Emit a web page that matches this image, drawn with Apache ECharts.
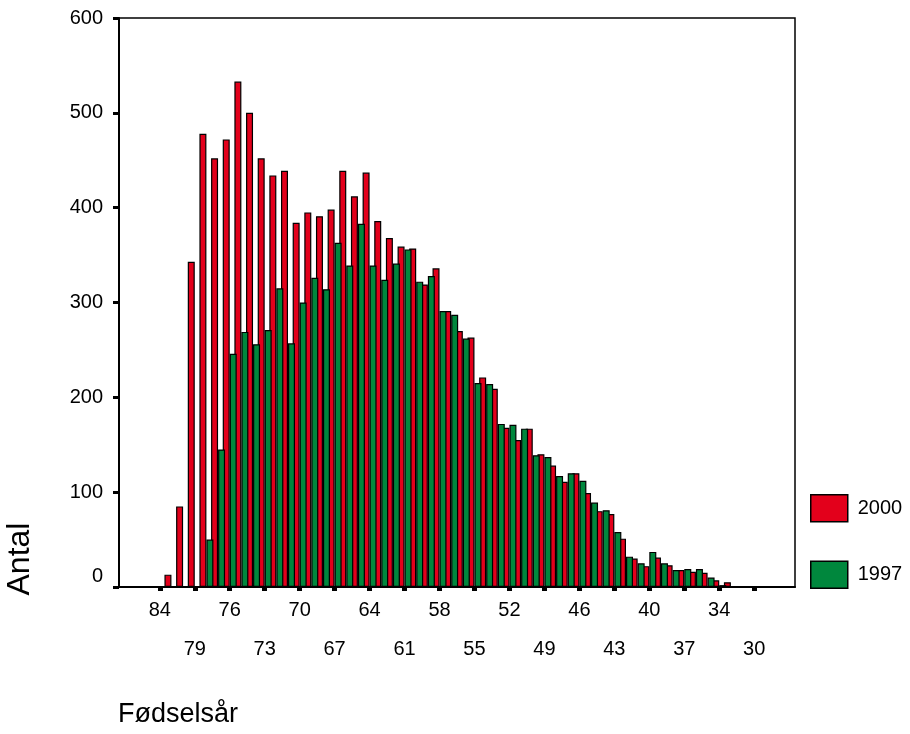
<!DOCTYPE html>
<html>
<head>
<meta charset="utf-8">
<script src="https://cdn.jsdelivr.net/npm/echarts@6/dist/echarts.min.js"></script>
<style>
html,body{margin:0;padding:0;background:#fff;}
#chart{width:910px;height:734px;}
</style>
</head>
<body>
<div id="chart"></div>
<script>
// Birth years (Fødselsår) shown on the category axis
const categories = ['87','86','85','84','81','80','79','78','77','76','75','74','73','72','71','70','69','68','67','66','65','64','63','62','61','60','59','58','57','56','55','54','53','52','51','50','49','48','47','46','45','44','43','42','41','40','39','38','37','36','35','34','32','31','30','29','28','27'];
// Counts (Antal) for 2000
const values2000 = [null,null,null,1,13,85,343,478,452,472,533,500,452,434,439,384,395,391,398,439,412,437,386,368,359,357,319,336,291,270,263,221,209,168,155,167,140,128,111,120,99,80,77,51,30,22,31,23,18,16,15,7,5,1,1,null,null,null];
// Counts (Antal) for 1997
const values1997 = [null,null,null,null,null,null,null,50,145,246,269,256,271,315,257,300,326,314,363,339,383,339,324,341,356,322,328,291,287,262,215,214,172,171,167,139,137,117,120,112,89,81,58,32,25,37,25,18,19,19,10,2,null,null,1,null,null,null];
const yTicks = [0,100,200,300,400,500,600];
const seriesNames = ['2000','1997'];

const FONT = 'Liberation Sans, Arial, Helvetica, sans-serif';
const labelled = (i) => i >= 3 && i <= 54 && i % 3 === 0;
const row1 = (i) => labelled(i) && (i / 3) % 2 === 1;
const row2 = (i) => labelled(i) && (i / 3) % 2 === 0;

const chart = echarts.init(document.getElementById('chart'), null, {renderer:'canvas'});
chart.setOption({
  animation: false,
  backgroundColor: '#fff',
  textStyle: {fontFamily: FONT},
  grid: {left:119, right:115, top:18, bottom:147, show:true, borderColor:'#000', borderWidth:1.5, containLabel:false},
  legend: {
    data: seriesNames,
    orient: 'vertical',
    left: 810, top: 494, padding: 0,
    itemWidth: 37, itemHeight: 27, itemGap: 38,
    icon: 'rect',
    textStyle: {fontFamily: FONT, fontSize: 20, color:'#000', padding:[0,0,0,5]},
    itemStyle: {borderColor:'#000', borderWidth:1.5}
  },
  xAxis: [
    {
      type: 'category', data: categories, position:'bottom',
      axisLine: {show:true, lineStyle:{color:'#000', width:2}},
      axisTick: {show:true, alignWithLabel:true, interval:(i)=>labelled(i), length:4, lineStyle:{color:'#000', width:5}},
      axisLabel: {interval:(i)=>row1(i), margin:13, fontSize:20, color:'#000', fontFamily:FONT},
      splitLine: {show:false}
    },
    {
      type: 'category', data: categories, position:'bottom', gridIndex:0,
      axisLine: {show:false},
      axisTick: {show:false},
      axisLabel: {interval:(i)=>row2(i), margin:52, fontSize:20, color:'#000', fontFamily:FONT},
      splitLine: {show:false}
    }
  ],
  yAxis: {
    type: 'value', min: yTicks[0], max: yTicks[yTicks.length-1], interval: 100,
    axisLine: {show:true, lineStyle:{color:'#000', width:2}},
    axisTick: {show:true, length:6, lineStyle:{color:'#000', width:3}},
    axisLabel: {
      margin: 16, fontSize: 20, color:'#000', fontFamily: FONT,
      formatter: (v) => v === 0 ? '{z|0}' : String(v),
      rich: {z: {fontSize:20, fontFamily:FONT, color:'#000', padding:[0,0,22,0]}}
    },
    splitLine: {show:false}
  },
  series: [
    {name: seriesNames[0], type:'bar', xAxisIndex:0, data: values2000, barGap:'0%', barWidth:7,
     itemStyle:{color:'#E3001B', borderColor:'#000', borderWidth:1.2}},
    {name: seriesNames[1], type:'bar', xAxisIndex:0, data: values1997, barGap:'0%', barWidth:7,
     itemStyle:{color:'#00873D', borderColor:'#000', borderWidth:1.2}}
  ],
  graphic: [
    {type:'text', x:20, y:559, rotation:Math.PI/2,
     style:{text:'Antal', font:'32px ' + FONT, fill:'#000', align:'center', verticalAlign:'middle'}},
    {type:'text', x:118, y:715,
     style:{text:'Fødselsår', font:'27px ' + FONT, fill:'#000', align:'left', verticalAlign:'middle'}}
  ]
});
</script>
</body>
</html>
